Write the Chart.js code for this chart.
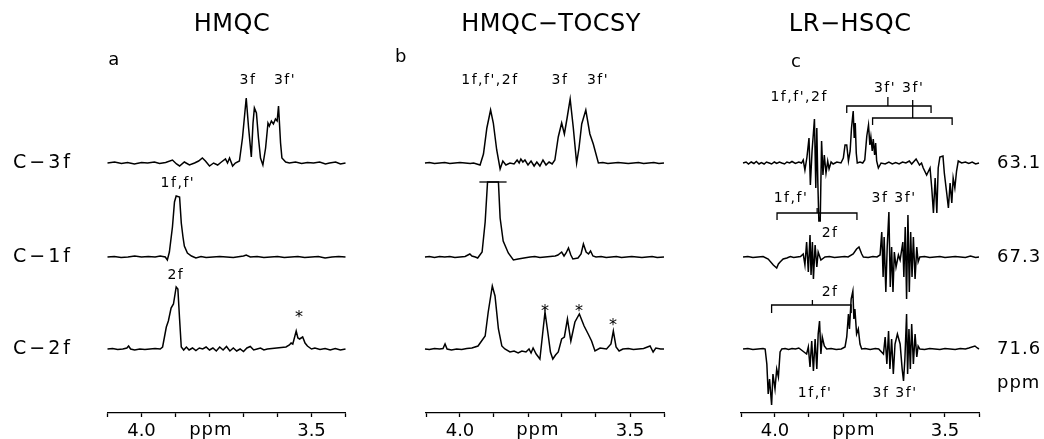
<!DOCTYPE html>
<html>
<head>
<meta charset="utf-8">
<script src="https://cdn.jsdelivr.net/npm/chart.js@4.4.1/dist/chart.umd.min.js"></script>
<style>
  html, body { margin: 0; background: #fff; overflow: hidden; }
  #wrap { position: relative; width: 1044px; height: 439px; overflow: hidden; }
  canvas { position: absolute; top: 0; }
</style>
</head>
<body>
<div id="wrap">
  <canvas id="panelA" width="360" height="445" style="left:0"></canvas>
  <canvas id="panelB" width="340" height="445" style="left:360px"></canvas>
  <canvas id="panelC" width="344" height="445" style="left:700px"></canvas>
</div>
<script>
// shared axis (ppm, reversed)
const ppmTicks = [4.1, 4.0, 3.9, 3.8, 3.7, 3.6, 3.5, 3.4];
const tickLabels = ['', '4.0', '', '', '', '', '3.5', ''];
// vertical offset of the three rows (top, middle, bottom)
const rowOffsets = [250, 156, 64];

// a: HMQC  [ppm, intensity]
const hmqc3f = [[4.100,0],[4.079,1],[4.059,-0.5],[4.041,0.5],[4.021,-1],[4.000,0.5],[3.982,0],[3.962,1],[3.947,-0.5],[3.929,0.5],[3.909,3],[3.897,-1],[3.888,-3],[3.874,1],[3.859,-2],[3.844,0],[3.832,2],[3.821,5],[3.812,2],[3.800,-3],[3.788,0],[3.776,-2],[3.765,1],[3.753,4],[3.747,0],[3.741,5],[3.732,-3],[3.724,0],[3.712,2],[3.703,25],[3.692,65],[3.685,35],[3.677,6],[3.672,40],[3.668,55],[3.662,50],[3.656,25],[3.650,5],[3.643,-2],[3.635,15],[3.628,40],[3.624,37],[3.618,42],[3.612,39],[3.606,44],[3.601,42],[3.597,57],[3.591,20],[3.587,5],[3.576,1],[3.565,0],[3.547,1],[3.529,-0.5],[3.512,0.5],[3.494,0],[3.476,1],[3.459,-1],[3.447,0],[3.429,1],[3.415,-1],[3.400,0]];
const hmqc1f = [[4.100,0],[4.080,0.5],[4.060,-0.5],[4.040,0],[4.020,1],[4.000,0],[3.980,0.5],[3.960,0],[3.945,1],[3.930,0],[3.924,-3],[3.918,5],[3.909,30],[3.903,55],[3.898,61],[3.888,60],[3.883,34],[3.878,20],[3.874,11],[3.865,4],[3.853,1],[3.840,-1],[3.825,0.5],[3.810,-0.5],[3.790,0],[3.770,0.5],[3.750,0],[3.730,-0.5],[3.700,1],[3.692,2],[3.680,0],[3.660,0.5],[3.640,-0.5],[3.620,0],[3.600,0.5],[3.580,-0.5],[3.560,0],[3.540,0.5],[3.520,-0.5],[3.500,0],[3.480,0.5],[3.460,-1],[3.440,0],[3.420,0.5],[3.400,0]];
const hmqc2f = [[4.100,0],[4.085,0.5],[4.070,-0.5],[4.055,0],[4.043,1],[4.038,3],[4.032,0],[4.020,-1],[4.005,0],[3.990,-0.5],[3.975,0],[3.960,0.5],[3.945,0],[3.938,2],[3.927,22],[3.921,28],[3.913,41],[3.906,45],[3.898,62],[3.893,60],[3.888,30],[3.883,2],[3.876,-1],[3.868,2],[3.860,-1],[3.850,1],[3.840,-1.5],[3.830,1],[3.820,0],[3.810,2],[3.800,-1],[3.790,1],[3.780,-2],[3.770,2],[3.760,-1],[3.750,2.5],[3.740,-2],[3.730,1],[3.720,-2],[3.710,0],[3.700,-2.5],[3.690,1],[3.680,2.5],[3.670,-1],[3.660,0],[3.650,1],[3.640,-1],[3.630,0],[3.575,2],[3.565,4],[3.560,6],[3.555,5],[3.545,18],[3.540,11],[3.535,10],[3.526,12],[3.519,6],[3.512,3],[3.500,0],[3.490,1],[3.475,-0.5],[3.460,0.5],[3.445,-1],[3.430,0.5],[3.415,-1],[3.400,0]];

// b: HMQC-TOCSY
const tocsy3f = [[4.103,0],[4.090,0.5],[4.075,-0.5],[4.060,0],[4.045,0.5],[4.030,-0.5],[4.015,0],[4.000,0.5],[3.985,0],[3.970,-0.5],[3.960,0],[3.941,-2],[3.931,9],[3.921,35],[3.910,53],[3.902,40],[3.892,13],[3.882,-6],[3.874,2],[3.865,-2],[3.853,0],[3.841,-1],[3.832,3],[3.826,0],[3.821,4],[3.815,1],[3.809,3],[3.800,-2],[3.791,2],[3.782,-3],[3.774,1],[3.765,-3],[3.756,3],[3.747,-2],[3.738,1],[3.729,-1],[3.721,3],[3.711,26],[3.701,40],[3.693,29],[3.685,45],[3.676,64],[3.667,36],[3.657,0],[3.650,15],[3.642,39],[3.630,53],[3.618,29],[3.608,19],[3.593,0],[3.580,0.5],[3.565,-0.5],[3.550,0],[3.535,0.5],[3.520,0],[3.505,-0.5],[3.490,0],[3.475,0.5],[3.460,-0.5],[3.445,0],[3.430,0.5],[3.415,-0.5],[3.400,0]];
const tocsy1f = [[4.103,0],[4.090,0.5],[4.075,-0.5],[4.060,0.5],[4.045,0],[4.030,0.5],[4.015,-0.5],[4.000,0],[3.985,0.5],[3.971,3],[3.965,1],[3.955,0],[3.948,-1],[3.935,5],[3.926,35],[3.919,75],[3.887,75],[3.882,39],[3.873,16],[3.858,4],[3.843,-3],[3.829,-2],[3.812,-1],[3.794,0],[3.780,0.5],[3.765,-0.5],[3.750,0],[3.735,0.5],[3.720,1],[3.712,2],[3.701,5],[3.694,1],[3.688,4],[3.681,9],[3.674,2],[3.668,-2],[3.653,-1],[3.644,3],[3.637,13],[3.629,5],[3.622,3],[3.616,6],[3.609,1],[3.600,0],[3.585,0.5],[3.570,-0.5],[3.555,0],[3.540,0.5],[3.525,-0.5],[3.510,0],[3.495,0.5],[3.480,0],[3.465,-0.5],[3.450,0],[3.435,0.5],[3.420,-0.5],[3.400,0]];
const tocsy2f = [[4.103,0],[4.090,-0.5],[4.075,0.5],[4.060,0],[4.050,0.5],[4.044,5],[4.038,0],[4.025,-1],[4.010,0],[3.995,-0.5],[3.980,0.5],[3.965,1],[3.947,3],[3.926,13],[3.917,37],[3.905,63],[3.897,53],[3.887,20],[3.877,3],[3.868,0],[3.853,-3],[3.841,-2],[3.829,-4],[3.818,-2],[3.806,-3],[3.797,0],[3.791,-4],[3.785,1],[3.776,-5],[3.765,-10],[3.757,15],[3.750,37],[3.741,15],[3.734,-3],[3.727,-10],[3.719,-6],[3.711,-3],[3.701,10],[3.693,12],[3.684,30],[3.674,8],[3.662,27],[3.649,35],[3.635,23],[3.623,15],[3.613,8],[3.603,-2],[3.588,1],[3.569,0],[3.556,5],[3.549,18],[3.541,2],[3.532,-2],[3.521,0],[3.505,0.5],[3.490,-0.5],[3.475,0],[3.460,0.5],[3.441,3],[3.432,-3],[3.424,1],[3.410,0],[3.400,0]];
const tocsyClip = [[3.943,231],[3.863,231]];

// c: LR-HSQC
const hsqc631 = [[4.094,0],[4.085,1],[4.078,-1],[4.070,1],[4.062,-0.5],[4.055,1.5],[4.047,-1],[4.040,0.5],[4.032,-1],[4.025,1],[4.017,0],[4.010,-1],[4.002,1],[3.995,-0.5],[3.987,1],[3.980,0],[3.972,-1],[3.965,1],[3.957,0],[3.950,1.5],[3.940,-0.5],[3.930,1],[3.922,0],[3.917,3],[3.912,-7],[3.906,6],[3.900,25],[3.896,-22],[3.891,12],[3.887,30],[3.884,44],[3.880,-25],[3.877,35],[3.874,-20],[3.871,-58],[3.867,-58],[3.863,22],[3.859,-12],[3.855,8],[3.850,-10],[3.845,2],[3.841,-6],[3.835,1],[3.829,-1],[3.818,1],[3.806,0],[3.799,5],[3.794,18],[3.789,18],[3.784,2],[3.779,12],[3.775,35],[3.770,52],[3.767,25],[3.764,40],[3.761,10],[3.758,0],[3.750,1],[3.742,0],[3.736,3],[3.730,27],[3.725,38],[3.721,18],[3.718,26],[3.714,12],[3.711,24],[3.707,8],[3.704,20],[3.701,2],[3.696,-5],[3.688,0],[3.676,-1],[3.665,1],[3.655,-1],[3.645,0.5],[3.635,-1],[3.625,1],[3.615,0],[3.605,2],[3.598,-1],[3.585,4],[3.575,-2],[3.569,0],[3.564,-5],[3.554,-12],[3.544,-5],[3.539,-25],[3.534,-50],[3.529,-15],[3.524,-50],[3.520,-5],[3.515,6],[3.506,7],[3.502,-10],[3.495,-30],[3.490,-45],[3.485,-20],[3.480,-40],[3.476,-15],[3.471,-25],[3.466,-8],[3.461,2],[3.451,0],[3.440,1],[3.430,-0.5],[3.420,1],[3.410,-1],[3.400,0]];
const hsqc673 = [[4.094,0],[4.080,0.5],[4.065,-0.5],[4.050,0],[4.035,0.5],[4.020,-2],[4.005,-8],[3.995,-11],[3.990,-7],[3.985,-5],[3.976,-2],[3.965,-1],[3.955,0.5],[3.945,-0.5],[3.935,0],[3.925,0.5],[3.917,3],[3.912,-8],[3.907,15],[3.902,-15],[3.897,22],[3.894,-18],[3.890,15],[3.887,-22],[3.882,12],[3.877,-10],[3.873,5],[3.865,-3],[3.853,0],[3.840,0.5],[3.825,-0.5],[3.810,0],[3.795,0.5],[3.785,0],[3.770,3],[3.760,8],[3.753,10],[3.745,3],[3.740,0],[3.726,-0.5],[3.712,0.5],[3.700,0],[3.691,2],[3.686,25],[3.682,-20],[3.679,20],[3.674,-35],[3.670,10],[3.665,45],[3.661,-30],[3.657,10],[3.653,-35],[3.649,5],[3.644,-10],[3.637,2],[3.632,-3],[3.624,15],[3.621,-20],[3.617,30],[3.613,-42],[3.609,42],[3.605,-35],[3.601,25],[3.597,-20],[3.593,20],[3.588,-22],[3.583,10],[3.579,-5],[3.574,0],[3.560,0.5],[3.545,-0.5],[3.530,0],[3.515,0.5],[3.500,-0.5],[3.485,0],[3.470,0.5],[3.455,0],[3.440,-0.5],[3.425,1],[3.410,-0.5],[3.400,0]];
const hsqc716 = [[4.094,0],[4.080,0.5],[4.065,-0.5],[4.050,0],[4.035,0.5],[4.029,0],[4.024,-15],[4.020,-45],[4.016,-30],[4.010,-56],[4.006,-25],[4.000,-40],[3.995,-20],[3.990,-28],[3.985,-3],[3.980,0],[3.970,0.5],[3.960,-0.5],[3.950,0.5],[3.940,0],[3.930,1],[3.907,-5],[3.902,2],[3.897,-18],[3.892,8],[3.887,-22],[3.882,10],[3.877,-20],[3.873,15],[3.869,28],[3.865,-5],[3.861,12],[3.855,3],[3.848,0],[3.835,0.5],[3.820,-0.5],[3.805,0],[3.794,2],[3.789,12],[3.784,35],[3.781,20],[3.776,50],[3.771,58],[3.768,30],[3.765,40],[3.760,15],[3.755,20],[3.750,5],[3.745,0],[3.735,0.5],[3.720,-0.5],[3.705,0.5],[3.695,0],[3.681,-5],[3.676,12],[3.671,-15],[3.666,18],[3.662,-20],[3.657,10],[3.652,-25],[3.647,5],[3.640,15],[3.632,5],[3.626,-20],[3.622,-32],[3.618,-10],[3.613,35],[3.610,-25],[3.606,20],[3.602,-20],[3.598,25],[3.593,-15],[3.588,15],[3.583,-8],[3.579,3],[3.574,0],[3.560,-0.5],[3.545,0.5],[3.530,0],[3.515,-0.5],[3.500,0.5],[3.485,0],[3.470,-0.5],[3.455,0.5],[3.440,0],[3.430,1],[3.412,3],[3.405,1],[3.400,0]];
const hsqcBrackets = [
  [[3.789,300],[3.789,307],[3.668,307],[3.668,316],[3.668,307],[3.541,307],[3.541,300]],
  [[3.713,288],[3.713,295],[3.595,295],[3.595,313],[3.595,295],[3.479,295],[3.479,288]],
  [[3.994,193],[3.994,200],[3.876,200],[3.876,205],[3.876,200],[3.759,200],[3.759,193]],
  [[4.010,100],[4.010,108],[3.890,108],[3.890,113],[3.890,108],[3.776,108],[3.776,100]]
];

// text labels: [text, ppm, y, kind]
const labelsA = [
  ['HMQC', 3.734, 388, 'title'], ['a', 4.098, 353, 'letter'],
  ['3f', 3.687, 333, 'peak'], ["3f'", 3.578, 333, 'peak'],
  ["1f,f'", 3.893, 230, 'peak'], ['2f', 3.899, 138, 'peak'], ['*', 3.537, 95, 'star'],
  ['C\u22123f', 4.378, 250, 'row'], ['C\u22121f', 4.378, 156, 'row'], ['C\u22122f', 4.378, 64, 'row'],
  ['ppm', 3.796, -17, 'axis']
];
const labelsB = [
  ['HMQC\u2212TOCSY', 3.732, 388, 'title'], ['b', 4.191, 356, 'letter'],
  ["1f,f',2f", 3.912, 333, 'peak'], ['3f', 3.706, 333, 'peak'], ["3f'", 3.594, 333, 'peak'],
  ['*', 3.750, 101, 'star'], ['*', 3.650, 101, 'star'], ['*', 3.550, 87, 'star'],
  ['ppm', 3.771, -17, 'axis']
];
const labelsC = [
  ['LR\u2212HSQC', 3.779, 388, 'title'], ['c', 3.953, 351, 'letter'],
  ["1f,f',2f", 3.929, 316, 'peak'], ["3f' 3f'", 3.635, 325, 'peak'],
  ["1f,f'", 3.953, 215, 'peak'], ["3f 3f'", 3.650, 215, 'peak'],
  ['2f', 3.838, 180, 'peak'], ['2f', 3.838, 121, 'peak'],
  ["1f,f'", 3.882, 20, 'peak'], ["3f 3f'", 3.647, 20, 'peak'],
  ['63.1', 3.347, 250, 'side'], ['67.3', 3.347, 156, 'side'], ['71.6', 3.347, 64, 'side'],
  ['ppm', 3.347, 30, 'side'], ['ppm', 3.768, -17, 'axis']
];

const textStyles = {
  title: {size: 24, spacing: '0.5px', align: 'center'},
  letter: {size: 18, spacing: '0px', align: 'left'},
  peak: {size: 14, spacing: '1.5px', align: 'center'},
  star: {size: 16, spacing: '0px', align: 'center'},
  row: {size: 19, spacing: '3px', align: 'left'},
  side: {size: 18, spacing: '1px', align: 'left'},
  axis: {size: 18, spacing: '1px', align: 'center'}
};

const textMarks = {
  id: 'textMarks',
  afterDraw(chart, args, opts) {
    const {ctx, scales: {x, y}} = chart;
    ctx.save();
    ctx.fillStyle = '#000';
    ctx.textBaseline = 'middle';
    opts.items.forEach(([text, ppm, val, kind]) => {
      const st = textStyles[kind];
      ctx.font = st.size + 'px "DejaVu Sans"';
      ctx.letterSpacing = st.spacing;
      ctx.textAlign = st.align;
      ctx.fillText(text, x.getPixelForValue(ppm), y.getPixelForValue(val));
    });
    ctx.restore();
  }
};

function makePanel(id, traces, extras, padLeft, padRight, items) {
  const datasets = traces.map((tr, i) => ({
    data: tr.map(p => ({x: p[0], y: p[1] + rowOffsets[i]}))
  })).concat(extras.map(ex => ({
    data: ex.map(p => ({x: p[0], y: p[1]})),
    borderWidth: 1.3
  })));
  return new Chart(document.getElementById(id), {
    type: 'line',
    data: {datasets},
    options: {
      responsive: false,
      animation: false,
      events: [],
      elements: {
        point: {radius: 0},
        line: {borderColor: '#000', borderWidth: 1.5, tension: 0, fill: false}
      },
      datasets: {line: {clip: false}},
      layout: {padding: {left: padLeft, right: padRight, top: 0, bottom: 0}},
      plugins: {legend: {display: false}, tooltip: {enabled: false}, textMarks: {items}},
      scales: {
        x: {
          type: 'linear', reverse: true, min: 3.4, max: 4.1,
          afterBuildTicks: s => { s.ticks = ppmTicks.map(v => ({value: v})); },
          ticks: {
            autoSkip: false, maxRotation: 0, padding: 5, color: '#000',
            font: {family: 'DejaVu Sans', size: 18, lineHeight: 1},
            callback: (v, i) => tickLabels[i]
          },
          grid: {display: true, drawOnChartArea: false, drawTicks: true, tickLength: 4, tickColor: '#000', tickWidth: 1.3},
          border: {display: true, color: '#000', width: 1.3}
        },
        y: {display: false, min: 0, max: 413}
      }
    },
    plugins: [textMarks]
  });
}

makePanel('panelA', [hmqc3f, hmqc1f, hmqc2f], [], 107.5, 14.5, labelsA);
makePanel('panelB', [tocsy3f, tocsy1f, tocsy2f], [tocsyClip], 66, 36, labelsB);
makePanel('panelC', [hsqc631, hsqc673, hsqc716], hsqcBrackets, 41, 65, labelsC);
</script>
</body>
</html>
